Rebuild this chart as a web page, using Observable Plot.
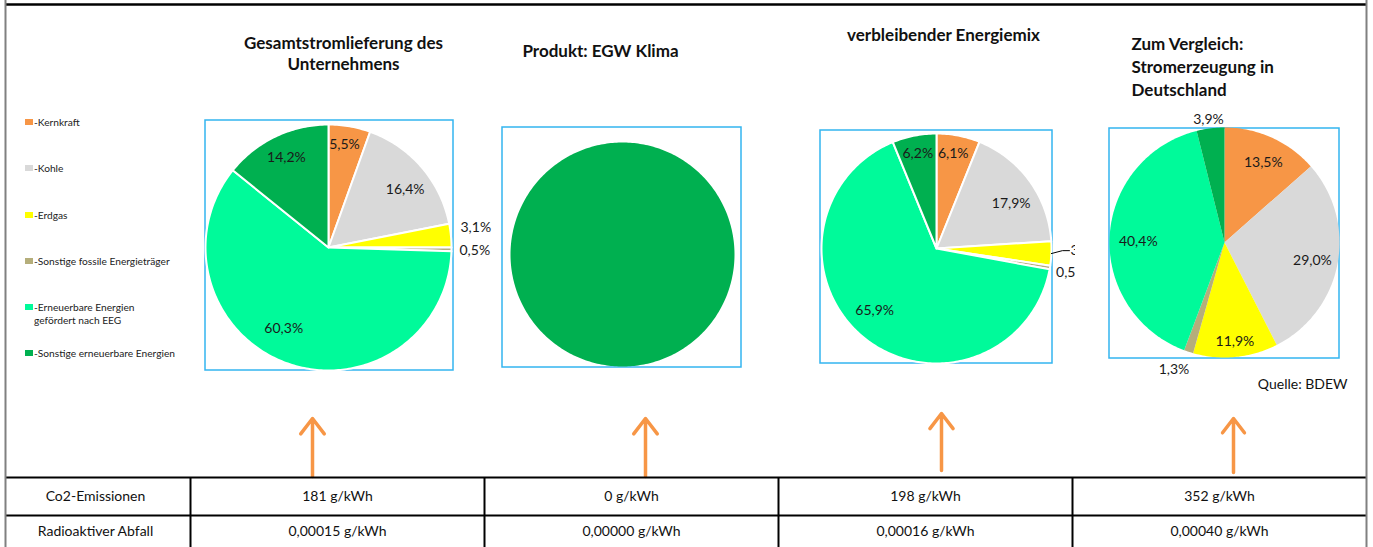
<!DOCTYPE html>
<html><head><meta charset="utf-8">
<script src="https://cdn.jsdelivr.net/npm/d3@7"></script>
<script src="https://cdn.jsdelivr.net/npm/@observablehq/plot@0.6"></script>
<style>body{margin:0;background:#fff} svg{display:block}</style>
</head><body><div id="chart"></div>
<script>
// ---------- DATA ----------
const sources = ["Kernkraft","Kohle","Erdgas","Sonstige fossile Energieträger","Erneuerbare Energien\ngefördert nach EEG","Sonstige erneuerbare Energien"];
const pieTitles = ["Gesamtstromlieferung des\nUnternehmens","Produkt: EGW Klima","verbleibender Energiemix","Zum Vergleich:\nStromerzeugung in\nDeutschland"];
const shareGesamt = [5.5,16.4,3.1,0.5,60.3,14.2];
const shareProdukt = [0,0,0,0,0,100];
const shareVerbleibend = [6.1,17.9,3.4,0.5,65.9,6.2];
const shareDeutschland = [13.5,29.0,11.9,1.3,40.4,3.9];
const rowLabels = ["Co2-Emissionen","Radioaktiver Abfall"];
const co2 = [181,0,198,352];
const waste = [0.00015,0.00000,0.00016,0.00040];
const unit = "g/kWh";
const sourceNote = "Quelle: BDEW";

// ---------- STYLE / LAYOUT ----------
const colors = ["#F79646","#D9D9D9","#FFFF00","#B5AE7B","#00FA9A","#00B050"];
const W = 1373, H = 547, FONT = "Lato, 'Open Sans', sans-serif";
const pies = [
  {shares: shareGesamt, cx:328, cy:247, r:123, box:[205,120,453,370], sep:2, labels:true,
   k:[0.85,0.78,1.085,1.065,0.75,0.81], nudge:[-1.1,3.7,-3,0.4,8.7,0.6],
   title:{x:343,y:52.5,anchor:"middle"}},
  {shares: shareProdukt, cx:622, cy:254, r:112, box:[502,127,741,367], sep:0, labels:false,
   k:[], nudge:[], title:{x:600,y:50,anchor:"middle"}},
  {shares: shareVerbleibend, cx:936, cy:248, r:115, box:[820,130,1052,363], sep:2, labels:true,
   k:[0.84,0.76,1.165,1.06,0.76,0.84], nudge:[-1,4.5,-1.6,1.8,6,0], leader:2,
   title:{x:943,y:34,anchor:"middle"}},
  {shares: shareDeutschland, cx:1224, cy:242, r:115, box:[1109,128,1339,358], sep:0, labels:true,
   k:[0.77,0.78,0.87,1.19,0.75,1.08], nudge:[1.7,0.7,-0.4,3.5,-2.7,-0.4],
   title:{x:1131,y:65,anchor:"start"}}
];
const legendY = [122,168,215,261,307,353];
const colEdges = [190,484,778,1072,1366];
const rowLines = [477,515];
const rowTextY = [496,531];
const arrowX = [312,645,941,1233], arrowTop = [418,418,413,418], arrowBottom = [476,476,470,472];

const de = d3.formatLocale({decimal:",", thousands:".", grouping:[3], currency:["","€"]});
const pct = v => de.format(".1f")(v) + "%";
const w5 = de.format(".5f");

// ---------- GEOMETRY FROM DATA ----------
const wedgePts = [], labelsMid = [], labelsStart = [], leaders = [];
pies.forEach((p, pi) => {
  const total = d3.sum(p.shares);
  let acc = 0;
  p.shares.forEach((v, si) => {
    const a0 = acc/total*360, a1 = (acc+v)/total*360; acc += v;
    if (v <= 0) return;
    const key = pi + "-" + si;
    const n = Math.max(2, Math.ceil(a1 - a0));
    const pts = [[p.cx,p.cy]];
    for (let i = 0; i <= n; i++) {
      const a = (a0 + (a1-a0)*i/n) * Math.PI/180;
      pts.push([p.cx + p.r*Math.sin(a), p.cy - p.r*Math.cos(a)]);
    }
    pts.push([p.cx,p.cy]);
    pts.forEach(([x,y]) => wedgePts.push({key, pie:pi, source:sources[si], x, y}));
    if (p.labels) {
      const am = ((a0+a1)/2 + p.nudge[si]) * Math.PI/180;
      const k = p.k[si];
      const lx = p.cx + k*p.r*Math.sin(am), ly = p.cy - k*p.r*Math.cos(am);
      const lab = {x:lx, y:ly, text:pct(v)};
      if (k > 1 && Math.sin(am) > 0.6) labelsStart.push(lab); else labelsMid.push(lab);
      if (p.leader === si) {
        const ar = ((a0+a1)/2) * Math.PI/180;
        leaders.push({x:p.cx + p.r*Math.sin(ar), y:p.cy - p.r*Math.cos(ar)});
        leaders.push({x:lx - 8, y:ly});
        leaders.push({x:lx - 1, y:ly});
      }
    }
  });
});

const boxes = pies.map(p => ({x1:p.box[0], y1:p.box[1], x2:p.box[2], y2:p.box[3]}));
const titles = pies.map((p,i) => ({...p.title, text:pieTitles[i]}));
const legend = sources.map((s,i) => ({source:s, y:legendY[i], text:"-" + s}));
const colCenters = d3.range(4).map(i => (colEdges[i]+colEdges[i+1])/2);
const cells = [];
co2.forEach((v,i) => cells.push({x:colCenters[i], y:rowTextY[0], text:`${v} ${unit}`}));
waste.forEach((v,i) => cells.push({x:colCenters[i], y:rowTextY[1], text:`${w5(v)} ${unit}`}));
const rowHead = rowLabels.map((t,i) => ({x:colEdges[0]/2, y:rowTextY[i], text:t}));
const arrows = arrowX.map((x,i) => ({x, y1:arrowBottom[i], y2:arrowTop[i]}));

const chart = Plot.plot({
  width: W, height: H, margin: 0,
  x: {domain:[0,W], range:[0,W], axis:null},
  y: {domain:[0,H], range:[0,H], axis:null},
  color: {domain: sources, range: colors},
  style: {fontFamily: FONT, background: "#fff"},
  marks: [
    Plot.rect(boxes, {x1:"x1", x2:"x2", y1:"y1", y2:"y2", fill:"none", stroke:"#33B5F0", strokeWidth:1.5}),
    ...pies.map((p,pi) => Plot.line(wedgePts.filter(d => d.pie === pi), {
      x:"x", y:"y", z:"key", fill:"source",
      stroke: p.sep ? "#fff" : "none", strokeWidth: p.sep, strokeLinejoin:"round"
    })),
    Plot.text(labelsMid, {x:"x", y:"y", text:"text", fontSize:14, fill:"#1a1a1a", fontFamily:FONT}),
    Plot.text(labelsStart, {x:"x", y:"y", text:"text", fontSize:14, fill:"#1a1a1a", textAnchor:"start", fontFamily:FONT}),
    Plot.line(leaders, {x:"x", y:"y", stroke:"#000", strokeWidth:1}),
    Plot.rect([{x1:1075, x2:1106, y1:228, y2:290}], {x1:"x1", x2:"x2", y1:"y1", y2:"y2", fill:"#fff"}),
    Plot.text(titles.filter(t => t.anchor === "middle"), {x:"x", y:"y", text:"text", fontSize:17, fontWeight:"bold", fill:"#111", lineHeight:1.24, fontFamily:FONT}),
    Plot.text(titles.filter(t => t.anchor === "start"), {x:"x", y:"y", text:"text", fontSize:17, fontWeight:"bold", fill:"#111", textAnchor:"start", lineHeight:1.35, fontFamily:FONT}),
    Plot.text([{x:1347, y:384, text:sourceNote}], {x:"x", y:"y", text:"text", fontSize:14, textAnchor:"end", fill:"#111", fontFamily:FONT}),
    // legend
    Plot.rect(legend, {x1:()=>25, x2:()=>33, y1:d=>d.y-3, y2:d=>d.y+3, fill:"source"}),
    Plot.text(legend, {x:()=>33.5, y:"y", text:"text", fontSize:10.2, textAnchor:"start", lineAnchor:"top", dy:-6, lineHeight:1.3, fill:"#222", fontFamily:FONT}),
    // arrows
    Plot.arrow(arrows, {x1:"x", x2:"x", y1:"y1", y2:"y2", stroke:"#F79646", strokeWidth:3.5, headLength:14, headAngle:75}),
    // table
    Plot.ruleY(rowLines, {y:d=>d, x1:()=>5, x2:()=>1366, stroke:"#000", strokeWidth:2}),
    Plot.ruleX(colEdges.slice(0,4), {x:d=>d, y1:()=>477, y2:()=>547, stroke:"#000", strokeWidth:2}),
    Plot.text(rowHead, {x:"x", y:"y", text:"text", fontSize:14, fill:"#111", fontFamily:FONT}),
    Plot.text(cells, {x:"x", y:"y", text:"text", fontSize:14, fill:"#111", fontFamily:FONT}),
    // frame
    Plot.ruleY([4], {y:d=>d, x1:()=>6, x2:()=>1366, stroke:"#000", strokeWidth:2.5}),
    Plot.ruleX([5, 1366], {x:d=>d, y1:()=>0, y2:()=>547, stroke:"#808080", strokeWidth:2})
  ]
});
document.getElementById("chart").appendChild(chart);
</script>
</body></html>
